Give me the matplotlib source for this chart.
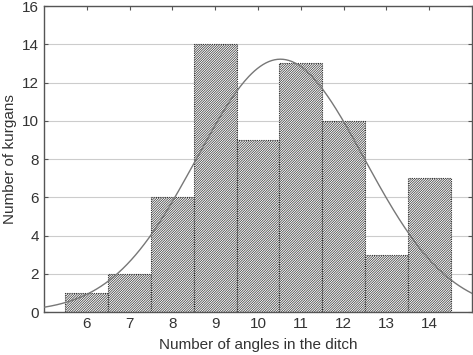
import numpy as np
import matplotlib.pyplot as plt

plt.rcParams["font.family"] = ["Liberation Sans", "DejaVu Sans"]
plt.rcParams["hatch.linewidth"] = 0.5
plt.rcParams["hatch.color"] = "#555555"

# 数据
angles = [6, 7, 8, 9, 10, 11, 12, 13, 14]
kurgans = [1, 2, 6, 14, 9, 13, 10, 3, 7]
x_ticks = angles
y_ticks = [0, 2, 4, 6, 8, 10, 12, 14, 16]

fig = plt.figure(figsize=(4.73, 3.55), dpi=100)
ax = fig.add_axes([0.093, 0.121, 0.905, 0.862])

ax.bar(angles, kurgans, width=1.0, color="#ffffff", edgecolor="#333333",
       hatch="//////////////", linewidth=0.8, linestyle=(0, (1, 1)), zorder=2)

# 正态拟合曲线
x = np.array(angles, dtype=float)
w = np.array(kurgans, dtype=float)
n = w.sum()
mu = (x * w).sum() / n
sd = np.sqrt(((x - mu) ** 2 * w).sum() / (n - 1))
xs = np.linspace(5, 15, 300)
ys = n * np.exp(-0.5 * ((xs - mu) / sd) ** 2) / (sd * np.sqrt(2 * np.pi))
ax.plot(xs, ys, color="#777777", linewidth=1.0, zorder=3)

ax.set_xlim(5, 15)
ax.set_ylim(0, 16)
ax.set_xticks(x_ticks)
ax.set_yticks(y_ticks)
ax.grid(axis="y", color="#cccccc", linewidth=0.8, zorder=0)
ax.set_axisbelow(True)
ax.tick_params(direction="in", top=True, right=True, length=3, colors="#555555",
               labelcolor="#333333", labelsize=11)
for s in ax.spines.values():
    s.set_color("#555555")
    s.set_linewidth(1.0)

ax.set_xlabel("Number of angles in the ditch", fontsize=11, color="#333333", labelpad=5)
ax.set_ylabel("Number of kurgans", fontsize=11, color="#333333", labelpad=4)

fig.savefig("out.png", dpi=100)
